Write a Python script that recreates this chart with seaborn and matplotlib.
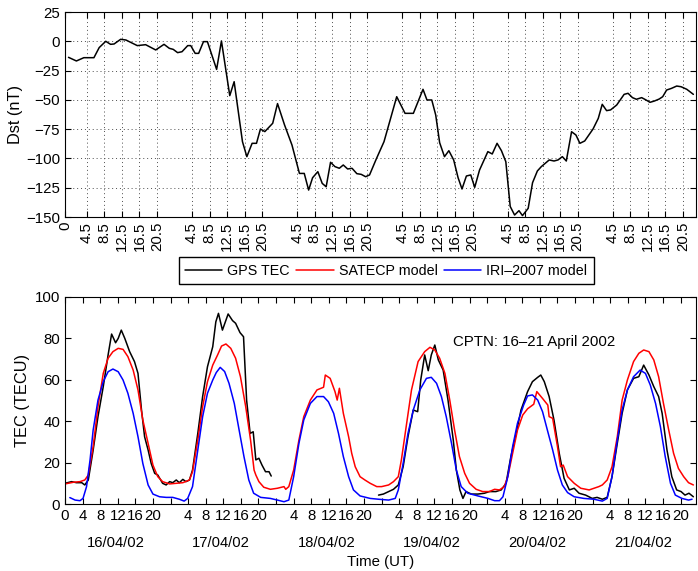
import matplotlib
matplotlib.use('Agg')
import matplotlib.pyplot as plt
import matplotlib.transforms as mtransforms
import seaborn as sns
import pandas as pd

# ---- Dst index (top panel), hours from 16/04/02 00 UT ----
dst_hour = [0.8, 2.6, 4.3, 6.6, 7.8, 9.3, 10.4, 11.2, 12.7, 13.9,
            16.5, 18.4, 20.7, 22.6, 23.8, 24.7, 25.7, 26.7, 28.0, 28.7,
            29.7, 30.5, 31.6, 32.5, 34.6, 35.7, 37.6, 38.6, 40.5, 41.5,
            42.7, 43.7, 44.6, 45.6, 47.4, 48.5, 50.1, 51.8, 53.5, 54.6,
            55.6, 56.5, 57.7, 58.7, 59.6, 60.6, 61.6, 62.6, 63.5, 64.5,
            65.5, 66.6, 67.6, 68.6, 69.5, 71.0, 72.8, 74.2, 75.7, 77.6,
            79.5, 81.7, 82.6, 83.7, 84.6, 85.5, 86.6, 87.6, 88.7, 89.7,
            90.6, 91.6, 92.6, 93.5, 94.6, 96.5, 97.5, 98.6, 99.6, 100.6,
            101.6, 102.6, 103.6, 104.4, 105.7, 106.7, 107.8, 108.7, 110.5, 111.6,
            112.5, 113.5, 114.4, 115.6, 116.6, 117.5, 118.6, 120.5, 121.7, 122.6,
            123.6, 124.5, 125.9, 127.6, 128.5, 129.5, 130.4, 131.6, 132.6, 133.5,
            134.5, 135.6, 136.4, 137.3, 138.4, 139.6, 140.6, 141.9, 143.4]
dst_value = [-13.7, -16.8, -14, -14, -5.4, 0, -2.6, -2.3, 1.7, 1.1,
             -3.7, -2.9, -7.4, -2.6, -6, -6.9, -9.7, -8.9, -3.7, -3.7,
             -10.3, -10.3, -0.3, -0.3, -24, 0.3, -46.4, -34.5, -85.7, -98.5,
             -87.1, -87.1, -74.9, -77.1, -70, -53.2, -71.4, -88.6, -112.8, -112.8,
             -127, -116.5, -111.3, -121.3, -124.2, -103.3, -107, -108.4, -105.6, -109,
             -108.4, -113, -113.6, -115.6, -114.1, -100.8, -85.7, -67.2, -47.3, -61.5,
             -61.5, -41, -50.1, -50.1, -62.9, -86.6, -98.5, -93.4, -101.3, -116.4,
             -126.1, -115, -114.1, -124.7, -109.9, -94.2, -96.2, -87.1, -93.4, -102.8,
             -141, -148.3, -144.6, -148.8, -142.6, -120.7, -110.7, -107, -101.3, -102.2,
             -101.3, -98.5, -102.2, -77.2, -80, -87.1, -85.1, -74.9, -65.8, -53.8,
             -59.2, -58.6, -54.4, -45.3, -44.4, -48.1, -49.5, -48.1, -50.1, -52.1,
             -51, -49.3, -47.3, -41.6, -40.2, -38.2, -38.8, -41, -45.3]

# ---- GPS TEC (two pieces, gap on 18/04) ----
gps_hour_a = [0, 1.5, 2.6, 3.8, 4.5, 5.3, 6.4, 7.5, 8.7, 9.8,
              10.6, 11.5, 12.1, 12.8, 13.6, 14.7, 15.8, 16.6, 17.4, 18.1,
              18.9, 19.6, 20.4, 21.1, 22.2, 23.0, 23.8, 24.5, 25.3, 26.0,
              26.8, 27.5, 28.3, 29.0, 30.2, 31.3, 32.4, 33.6, 34.3, 34.9,
              35.8, 37.1, 38.1, 38.8, 39.8, 40.6, 41.3, 42.1, 42.8, 43.4,
              44.1, 44.8, 45.6, 46.4, 46.9]
gps_tec_a = [10, 10.8, 10.3, 10.3, 9.2, 11.6, 26, 42.2, 56.7, 72,
             82.1, 77.9, 80, 84, 80, 73.6, 68.8, 63.1, 45.4, 32.5,
             26.1, 19.6, 14.8, 14, 10, 9.2, 10.8, 10.3, 11.6, 10.3,
             11.9, 10.8, 11.6, 16.4, 34.1, 51.9, 66.3, 76, 88, 92.1,
             84, 91.8, 88.6, 87.3, 82.8, 80.8, 50.2, 34.1, 34.9, 21.3,
             22.1, 18.8, 15.6, 15.6, 13.5]
gps_hour_b = [71.3, 72.4, 73.6, 74.7, 75.8, 76.9, 78.0, 79.2, 80.2, 80.9,
              81.8, 82.6, 83.3, 84.1, 84.9, 86.0, 87.1, 88.3, 89.0, 89.8,
              90.5, 91.2, 92.4, 93.9, 95.4, 96.5, 98.0, 99.2, 100.3, 101.4,
              102.6, 103.7, 105.2, 106.3, 107.5, 108.2, 109.0, 110.1, 111.2, 112.4,
              113.5, 114.7, 115.8, 116.9, 118.4, 119.9, 121.0, 122.2, 123.3, 124.4,
              125.6, 126.7, 127.9, 129.3, 130.5, 131.6, 132.8, 133.9, 135.0, 135.8,
              136.9, 138.0, 139.1, 140.1, 141.0, 141.9, 142.9]
gps_tec_b = [4.3, 4.8, 6, 7.1, 9.2, 18, 32.5, 45.4, 44.6, 59.9,
             72, 64.4, 72, 76.8, 69.6, 64.7, 50.2, 30.9, 16.4, 6.8,
             2.7, 6, 4.8, 4.8, 5.2, 6, 6, 6.8, 10, 22.9,
             34.1, 45.4, 54.3, 59.1, 61.2, 62.3, 59.1, 51.9, 40.6, 24.5,
             12.4, 6.8, 7.6, 5.2, 4.3, 2.7, 3.2, 2.3, 3.2, 13.2,
             29.3, 43.8, 55.1, 60.7, 61.5, 67.1, 62.3, 56.7, 51.9, 43.8,
             26.1, 13.2, 6.8, 6, 4.3, 5.2, 3.5]

# ---- SATECP model ----
satecp_hour = [0, 1.9, 3.4, 4.5, 5.3, 6.4, 7.5, 8.7, 9.8, 10.9,
               12.1, 13.2, 14.3, 15.5, 16.6, 17.7, 18.9, 20.0, 21.1, 22.2,
               23.8, 25.3, 26.8, 28.3, 29.0, 30.2, 31.3, 32.4, 33.6, 34.7,
               35.6, 36.6, 37.7, 38.8, 39.9, 41.1, 42.2, 43.0, 43.4, 44.1,
               45.2, 46.7, 48.3, 49.8, 50.2, 50.9, 52.0, 53.2, 54.3, 55.8,
               57.3, 58.8, 59.2, 60.3, 61.4, 61.9, 62.4, 63.3, 64.5, 65.2,
               66.0, 67.1, 68.2, 69.4, 70.9, 72.0, 73.6, 74.7, 75.8, 76.5,
               77.7, 78.8, 80.3, 81.8, 83.0, 84.1, 85.2, 86.4, 87.5, 88.6,
               89.7, 90.9, 92.0, 93.5, 95.0, 96.5, 97.7, 98.8, 99.9, 100.7,
               101.8, 102.9, 104.1, 105.2, 106.6, 107.3, 108.6, 109.8, 110.1, 110.9,
               112.0, 112.7, 113.3, 114.3, 115.8, 117.3, 119.2, 121.4, 122.2, 123.3,
               124.4, 125.6, 126.7, 127.9, 129.3, 130.5, 131.6, 132.8, 133.9, 135.0,
               136.1, 137.3, 138.4, 139.5, 140.7, 141.8, 142.9]
satecp_tec = [9.7, 10.5, 10.8, 11.6, 14, 27.7, 47, 63.1, 70.4, 73.6,
              75.2, 74.7, 71.2, 64.7, 55.1, 40.6, 29.3, 18.8, 13.2, 10.8,
              9.7, 10, 10.3, 11.6, 15.6, 30.9, 47, 59.1, 67.1, 72,
              76.3, 77.3, 75.2, 70.4, 61.5, 47, 30.9, 16.4, 14, 10.8,
              8.1, 7.1, 7.6, 8.4, 7.1, 8.4, 16.4, 30.9, 42.2, 50.2,
              55.1, 56.4, 62.3, 60.7, 54.3, 50.2, 55.9, 43.8, 32.5, 24.5,
              18, 13.2, 11.6, 10, 8.4, 8.4, 9.2, 10.8, 13.2, 21.3,
              39, 55.1, 68.8, 73.6, 75.7, 74.4, 70.4, 63.1, 50.2, 35.7,
              22.9, 14.8, 10, 7.1, 6, 6, 7.1, 6.8, 8.4, 13.2,
              24.5, 35.7, 43, 46, 48.2, 54.3, 51, 47.8, 42.2, 41.4,
              27.7, 18, 18.8, 13.2, 10, 7.6, 6.8, 8.4, 9.2, 11.6,
              18, 32.5, 50.2, 59.9, 68.8, 72.8, 74.4, 73.6, 69.6, 61.5,
              48.6, 35.7, 24.5, 17.2, 13.2, 10.3, 9.2]

# ---- IRI-2007 model ----
iri_hour = [1.1, 2.3, 3.4, 4.1, 4.9, 5.7, 6.4, 7.5, 8.7, 9.8,
            10.9, 12.1, 13.2, 14.3, 15.5, 16.6, 17.7, 18.9, 20.0, 21.5,
            23.0, 24.5, 26.0, 27.1, 27.9, 29.0, 30.2, 31.3, 32.4, 33.6,
            34.4, 35.3, 36.3, 37.3, 38.5, 39.6, 40.7, 41.8, 42.9, 44.5,
            46.7, 48.3, 49.8, 50.9, 52.0, 53.2, 54.3, 55.8, 57.3, 58.8,
            59.9, 61.1, 62.2, 63.3, 64.5, 65.6, 67.1, 69.4, 71.3, 73.6,
            75.1, 75.8, 76.9, 78.0, 79.2, 80.7, 82.2, 83.3, 84.5, 85.6,
            86.7, 87.9, 89.0, 90.1, 91.6, 93.9, 96.2, 97.7, 98.8, 99.6,
            100.7, 101.8, 102.9, 104.3, 105.2, 106.3, 107.5, 108.6, 109.7, 110.9,
            112.0, 113.1, 114.3, 115.8, 118.0, 120.3, 122.2, 123.3, 124.4, 125.6,
            126.7, 127.9, 129.3, 130.8, 132.0, 133.1, 134.3, 135.4, 136.5, 137.7,
            138.8, 140.3, 141.8, 142.6]
iri_tec = [3.1, 1.9, 1.6, 2.7, 8.4, 21.3, 35.7, 50.2, 59.1, 63.9,
           65.2, 63.9, 59.9, 53.5, 43.8, 32.5, 19.6, 9.2, 4.8, 3.5,
           3.2, 3.2, 2.3, 1.4, 2.7, 8.4, 26.1, 42.2, 53.5, 59.9,
           63.5, 66, 64, 58.3, 48.6, 35.7, 22.9, 11.6, 5.2, 3.2,
           2.7, 1.9, 1.1, 1.9, 13.2, 29.3, 40.6, 48.6, 51.9, 51.9,
           49.4, 43.8, 34.1, 22.9, 13.2, 6.8, 3.9, 2.7, 2.3, 1.9,
           2.7, 6.8, 19.6, 34.1, 45.4, 55.1, 60.7, 61.2, 58.3, 51.9,
           42.2, 29.3, 16.4, 8.4, 5.2, 3.9, 2.7, 1.6, 1.6, 3.5,
           13.2, 27.7, 39, 47.8, 52.2, 52.7, 50.2, 44.6, 35.7, 26.1,
           16.4, 9.2, 5.5, 3.5, 2.7, 2.3, 1.4, 2.7, 13.2, 30.9,
           45.4, 55.1, 61.5, 64.7, 63.1, 57.5, 48.6, 37.4, 22.9, 10,
           4.3, 2.7, 1.9, 2.3]

series_names = ['GPS TEC', 'SATECP model', 'IRI\u20132007 model']
series_colors = ['black', 'red', 'blue']
dates = ['16/04/02', '17/04/02', '18/04/02', '19/04/02', '20/04/02', '21/04/02']
dst_tick_labels = ['4.5', '8.5', '12.5', '16.5', '20.5']
tec_tick_labels = ['4', '8', '12', '16', '20']

sns.set_theme(style='ticks')
plt.rcParams['font.family'] = ['Liberation Sans', 'DejaVu Sans']
plt.rcParams['font.size'] = 10.4
plt.rcParams['axes.linewidth'] = 0.8
plt.rcParams['axes.edgecolor'] = 'black'
plt.rcParams['xtick.color'] = 'black'
plt.rcParams['ytick.color'] = 'black'
plt.rcParams['text.color'] = 'black'
plt.rcParams['axes.labelcolor'] = 'black'

fig = plt.figure(figsize=(6.98, 5.71), dpi=100)
ax_dst = fig.add_axes([65 / 698, 1 - 217 / 571, 631 / 698, 205 / 571])
ax_tec = fig.add_axes([65 / 698, 1 - 504 / 571, 631 / 698, 207 / 571])

# top panel: Dst
dst_df = pd.DataFrame({'hour': dst_hour, 'dst': dst_value})
sns.lineplot(data=dst_df, x='hour', y='dst', color='black', linewidth=1.1,
             estimator=None, sort=False, ax=ax_dst)
ax_dst.set_xlim(0, 144)
ax_dst.set_ylim(-150, 25)
ax_dst.set_yticks(range(-150, 26, 25))
top_ticks = [0] + [d * 24 + float(v) + 0.5 for d in range(6) for v in dst_tick_labels]
ax_dst.set_xticks(top_ticks)
ax_dst.set_xticklabels(['0'] + dst_tick_labels * 6, rotation=90)
ax_dst.grid(True, linestyle=(0, (1, 3)), color='0.3', linewidth=0.7)
ax_dst.tick_params(direction='in', top=True, right=True, length=4, width=0.8,
                   labelsize=10.8)
ax_dst.set_xlabel('')
ax_dst.set_ylabel('Dst (nT)', fontsize=11.8)
ax_dst.yaxis.set_label_coords(-0.066, 0.5)

# bottom panel: TEC
frames = []
for name, hrs, vals, seg in [(series_names[0], gps_hour_a, gps_tec_a, 'a'),
                             (series_names[0], gps_hour_b, gps_tec_b, 'b'),
                             (series_names[1], satecp_hour, satecp_tec, 'a'),
                             (series_names[2], iri_hour, iri_tec, 'a')]:
    frames.append(pd.DataFrame({'hour': hrs, 'tec': vals, 'series': name, 'seg': seg}))
tec_df = pd.concat(frames, ignore_index=True)
sns.lineplot(data=tec_df, x='hour', y='tec', hue='series', units='seg',
             estimator=None, sort=False, hue_order=series_names,
             palette=dict(zip(series_names, series_colors)), linewidth=1.1, ax=ax_tec)
ax_tec.set_xlim(0, 143.5)
ax_tec.set_ylim(0, 100)
ax_tec.set_yticks(range(0, 101, 20))
ax_tec.set_xticks(range(0, 141, 4))
bottom_labels = ['0'] + tec_tick_labels + (([''] + tec_tick_labels) * 5)
ax_tec.set_xticklabels(bottom_labels)
ax_tec.tick_params(direction='in', top=True, right=True, length=4, width=0.8,
                   labelsize=10.8)
ax_tec.set_ylabel('TEC (TECU)', fontsize=11.8)
ax_tec.yaxis.set_label_coords(-0.055, 0.5)
ax_tec.set_xlabel('Time (UT)', fontsize=10.8)
ax_tec.xaxis.set_label_coords(0.5, -0.245)

trans = mtransforms.blended_transform_factory(ax_tec.transData, ax_tec.transAxes)
for d, lab in enumerate(dates):
    ax_tec.text(d * 24 + 11.5, -0.188, lab, transform=trans, ha='center', va='center',
                fontsize=10.6)

ax_tec.text(88.2, 78.3, 'CPTN: 16\u201321 April 2002', ha='left', va='center',
            fontsize=10.8)

sns.move_legend(ax_tec, 'center', bbox_to_anchor=(0.509, 1.126), ncol=3,
                title=None, frameon=True, fancybox=False, edgecolor='black',
                framealpha=1, handlelength=2.6, handletextpad=0.35,
                columnspacing=0.45, borderpad=0.45, fontsize=10.3)
ax_tec.get_legend().get_frame().set_linewidth(1.0)

fig.savefig('out.png', dpi=100)
plt.close(fig)
